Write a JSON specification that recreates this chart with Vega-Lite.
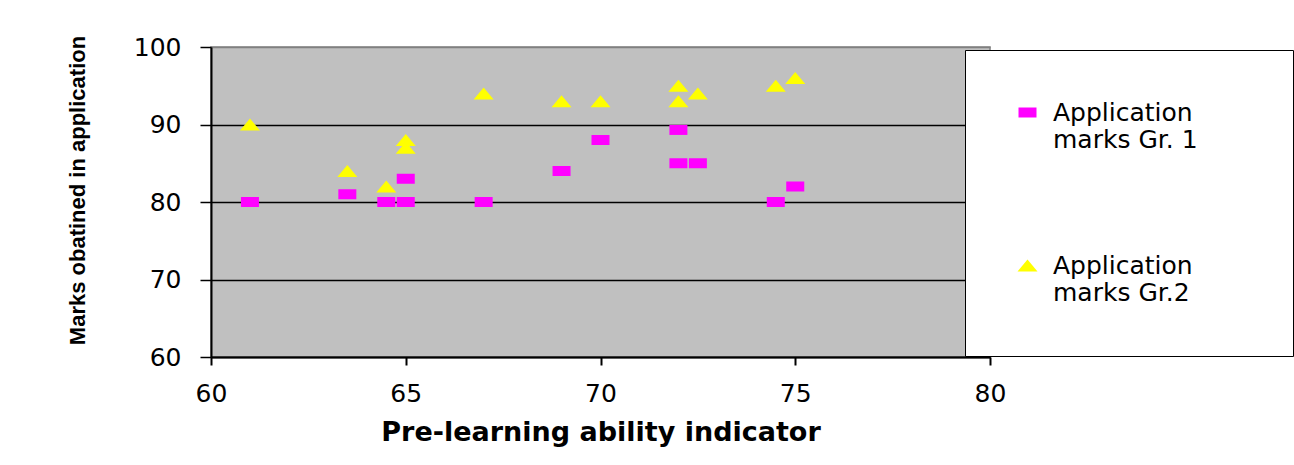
{
  "$schema": "https://vega.github.io/schema/vega-lite/v6.json",
  "width": 779,
  "height": 310,
  "autosize": {"type": "none"},
  "padding": {"left": 211, "top": 47, "right": 304, "bottom": 108},
  "background": "white",
  "config": {
    "view": {"fill": "#C0C0C0", "stroke": "#808080", "strokeWidth": 1.5}
  },
  "data": {
    "values": [
      {"group": "Application marks Gr. 1", "ability": 61, "marks": 80},
      {"group": "Application marks Gr. 1", "ability": 63.5, "marks": 81},
      {"group": "Application marks Gr. 1", "ability": 64.5, "marks": 80},
      {"group": "Application marks Gr. 1", "ability": 65, "marks": 83},
      {"group": "Application marks Gr. 1", "ability": 65, "marks": 80},
      {"group": "Application marks Gr. 1", "ability": 67, "marks": 80},
      {"group": "Application marks Gr. 1", "ability": 69, "marks": 84},
      {"group": "Application marks Gr. 1", "ability": 70, "marks": 88},
      {"group": "Application marks Gr. 1", "ability": 72, "marks": 89.3},
      {"group": "Application marks Gr. 1", "ability": 72, "marks": 85},
      {"group": "Application marks Gr. 1", "ability": 72.5, "marks": 85},
      {"group": "Application marks Gr. 1", "ability": 74.5, "marks": 80},
      {"group": "Application marks Gr. 1", "ability": 75, "marks": 82},
      {"group": "Application marks Gr.2", "ability": 61, "marks": 90},
      {"group": "Application marks Gr.2", "ability": 63.5, "marks": 84},
      {"group": "Application marks Gr.2", "ability": 64.5, "marks": 82},
      {"group": "Application marks Gr.2", "ability": 65, "marks": 88},
      {"group": "Application marks Gr.2", "ability": 65, "marks": 87},
      {"group": "Application marks Gr.2", "ability": 67, "marks": 94},
      {"group": "Application marks Gr.2", "ability": 69, "marks": 93},
      {"group": "Application marks Gr.2", "ability": 70, "marks": 93},
      {"group": "Application marks Gr.2", "ability": 72, "marks": 95},
      {"group": "Application marks Gr.2", "ability": 72, "marks": 93},
      {"group": "Application marks Gr.2", "ability": 72.5, "marks": 94},
      {"group": "Application marks Gr.2", "ability": 74.5, "marks": 95},
      {"group": "Application marks Gr.2", "ability": 75, "marks": 96}
    ]
  },
  "mark": {"type": "point", "filled": true, "size": 400, "opacity": 1, "strokeWidth": 0},
  "encoding": {
    "x": {
      "field": "ability",
      "type": "quantitative",
      "scale": {"domain": [60, 80], "nice": false, "zero": false},
      "axis": {
        "title": "Pre-learning ability indicator",
        "values": [60, 65, 70, 75, 80],
        "grid": false,
        "domainColor": "#000",
        "domainWidth": 2,
        "tickColor": "#000",
        "tickSize": 8,
        "tickWidth": 2,
        "labelFont": "DejaVu Sans",
        "labelFontSize": 25,
        "labelColor": "#000",
        "labelPadding": 16,
        "labelFlush": false,
        "titleFont": "DejaVu Sans",
        "titleFontWeight": "bold",
        "titleFontSize": 27,
        "titleColor": "#000",
        "titlePadding": 13
      }
    },
    "y": {
      "field": "marks",
      "type": "quantitative",
      "scale": {"domain": [60, 100], "nice": false, "zero": false},
      "axis": {
        "title": "Marks obatined in application",
        "values": [60, 70, 80, 90, 100],
        "grid": true,
        "gridColor": {"expr": "datum.value === 100 ? '#808080' : '#000000'"},
        "gridWidth": 1.5,
        "domainColor": "#000",
        "domainWidth": 2,
        "tickColor": "#000",
        "tickSize": 11,
        "tickWidth": 1.5,
        "labelFont": "DejaVu Sans",
        "labelFontSize": 25,
        "labelColor": "#000",
        "labelPadding": 19,
        "labelFlush": false,
        "titleFont": "Liberation Sans",
        "titleFontWeight": "bold",
        "titleFontSize": 22,
        "titleColor": "#000",
        "titleAngle": -90,
        "titleAlign": "center",
        "titleBaseline": "alphabetic",
        "titleX": -127,
        "titleY": 143
      }
    },
    "color": {
      "field": "group",
      "type": "nominal",
      "scale": {"domain": ["Application marks Gr. 1", "Application marks Gr.2"], "range": ["#FF00FF", "#FFFF00"]},
      "legend": {
        "orient": "none",
        "legendX": 754,
        "legendY": 3,
        "title": "\u00a0",
        "titleOrient": "right",
        "titleFontSize": 2,
        "titlePadding": 45,
        "padding": 50,
        "fillColor": "#FFFFFF",
        "strokeColor": "#000000",
        "symbolSize": 400,
        "symbolStrokeWidth": 0,
        "symbolOpacity": 1,
        "labelFont": "DejaVu Sans",
        "labelFontSize": 25,
        "labelColor": "#000",
        "labelOffset": 13,
        "labelLimit": 500,
        "rowPadding": 100,
        "labelExpr": "['Application', substring(datum.label, 12)]"
      }
    },
    "shape": {
      "field": "group",
      "type": "nominal",
      "scale": {"domain": ["Application marks Gr. 1", "Application marks Gr.2"], "range": ["M-0.9,-0.5L0.9,-0.5L0.9,0.5L-0.9,0.5Z", "M0,-0.6L1,0.6L-1,0.6Z"]},
      "legend": {
        "orient": "none",
        "legendX": 754,
        "legendY": 3,
        "title": "\u00a0",
        "titleOrient": "right",
        "titleFontSize": 2,
        "titlePadding": 45,
        "padding": 50,
        "fillColor": "#FFFFFF",
        "strokeColor": "#000000",
        "symbolSize": 400,
        "symbolStrokeWidth": 0,
        "symbolOpacity": 1,
        "labelFont": "DejaVu Sans",
        "labelFontSize": 25,
        "labelColor": "#000",
        "labelOffset": 13,
        "labelLimit": 500,
        "rowPadding": 100,
        "labelExpr": "['Application', substring(datum.label, 12)]"
      }
    }
  }
}
